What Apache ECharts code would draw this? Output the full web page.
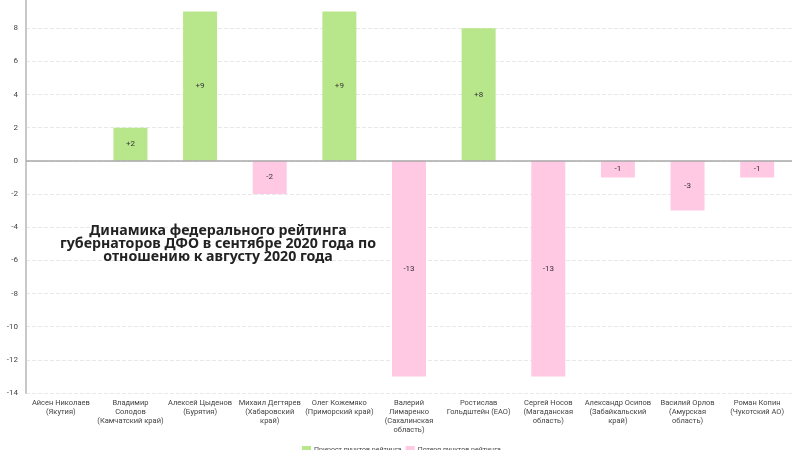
<!DOCTYPE html>
<html><head><meta charset="utf-8">
<script src="https://cdn.jsdelivr.net/npm/echarts@6/dist/echarts.min.js"></script>
<style>html,body{margin:0;padding:0;background:#fff}#c{width:800px;height:450px}</style>
</head><body><div id="c"></div>
<script>
const categories = [
  "Айсен Николаев\n(Якутия)",
  "Владимир\nСолодов\n(Камчатский край)",
  "Алексей Цыденов\n(Бурятия)",
  "Михаил Дегтярев\n(Хабаровский\nкрай)",
  "Олег Кожемяко\n(Приморский край)",
  "Валерий\nЛимаренко\n(Сахалинская\nобласть)",
  "Ростислав\nГольдштейн (ЕАО)",
  "Сергей Носов\n(Магаданская\nобласть)",
  "Александр Осипов\n(Забайкальский\nкрай)",
  "Василий Орлов\n(Амурская\nобласть)",
  "Роман Копин\n(Чукотский АО)"
];
const gainValues = [null, 2, 9, null, 9, null, 8, null, null, null, null];
const lossValues = [null, null, null, -2, null, -13, null, -13, -1, -3, -1];
const seriesNames = ["Прирост пунктов рейтинга", "Потеря пунктов рейтинга"];
const titleText = "Динамика федерального рейтинга\nгубернаторов ДФО в сентябре 2020 года по\nотношению к августу 2020 года";

const chart = echarts.init(document.getElementById('c'));
const lbl = {
  show: true, position: 'inside', fontSize: 8, color: '#333', fontFamily: 'Roboto',
  formatter: p => (p.value > 0 ? '+' : '') + p.value
};
chart.setOption({
  animation: false,
  backgroundColor: '#fff',
  title: {
    text: titleText, left: 213, top: 219, textAlign: 'center',
    textStyle: { fontFamily: 'Noto Sans', fontWeight: 'bold', fontSize: 14.2, lineHeight: 13, color: '#222' }
  },
  legend: {
    data: seriesNames, top: 446, left: 302, padding: 0, itemWidth: 9, itemHeight: 9, itemGap: 4,
    icon: 'rect', textStyle: { fontSize: 7, color: '#444', fontFamily: 'Roboto', padding: [0, 0, 0, -2] }
  },
  grid: { left: 26, right: 8, top: -5, bottom: 57, containLabel: false, outerBoundsMode: 'none' },
  xAxis: {
    type: 'category', data: categories,
    axisLine: { show: false, onZero: false }, axisTick: { show: false },
    axisLabel: { interval: 0, fontSize: 7.5, lineHeight: 9, color: '#444', margin: 6, fontFamily: 'Roboto' }
  },
  yAxis: {
    type: 'value', min: -14, max: 10, interval: 2,
    axisLine: { show: true, lineStyle: { color: '#c8c8c8', width: 2 } },
    axisTick: { show: false },
    axisLabel: { fontSize: 8, color: '#444', margin: 8, fontFamily: 'Roboto',
      formatter: v => (v === 10 ? '' : String(v)) },
    splitLine: { lineStyle: { color: '#e8e8e8', type: 'dashed' } }
  },
  series: [
    {
      name: seriesNames[0], type: 'bar', stack: 'a', data: gainValues, barWidth: 34,
      itemStyle: { color: '#b8e68a' }, label: lbl,
      markLine: {
        silent: true, symbol: 'none', label: { show: false },
        lineStyle: { color: '#a8a8a8', type: 'solid', width: 1.5 },
        data: [{ yAxis: 0 }]
      }
    },
    {
      name: seriesNames[1], type: 'bar', stack: 'a', data: lossValues, barWidth: 34,
      itemStyle: { color: '#ffc8e3' }, label: lbl
    }
  ]
});
</script></body></html>
